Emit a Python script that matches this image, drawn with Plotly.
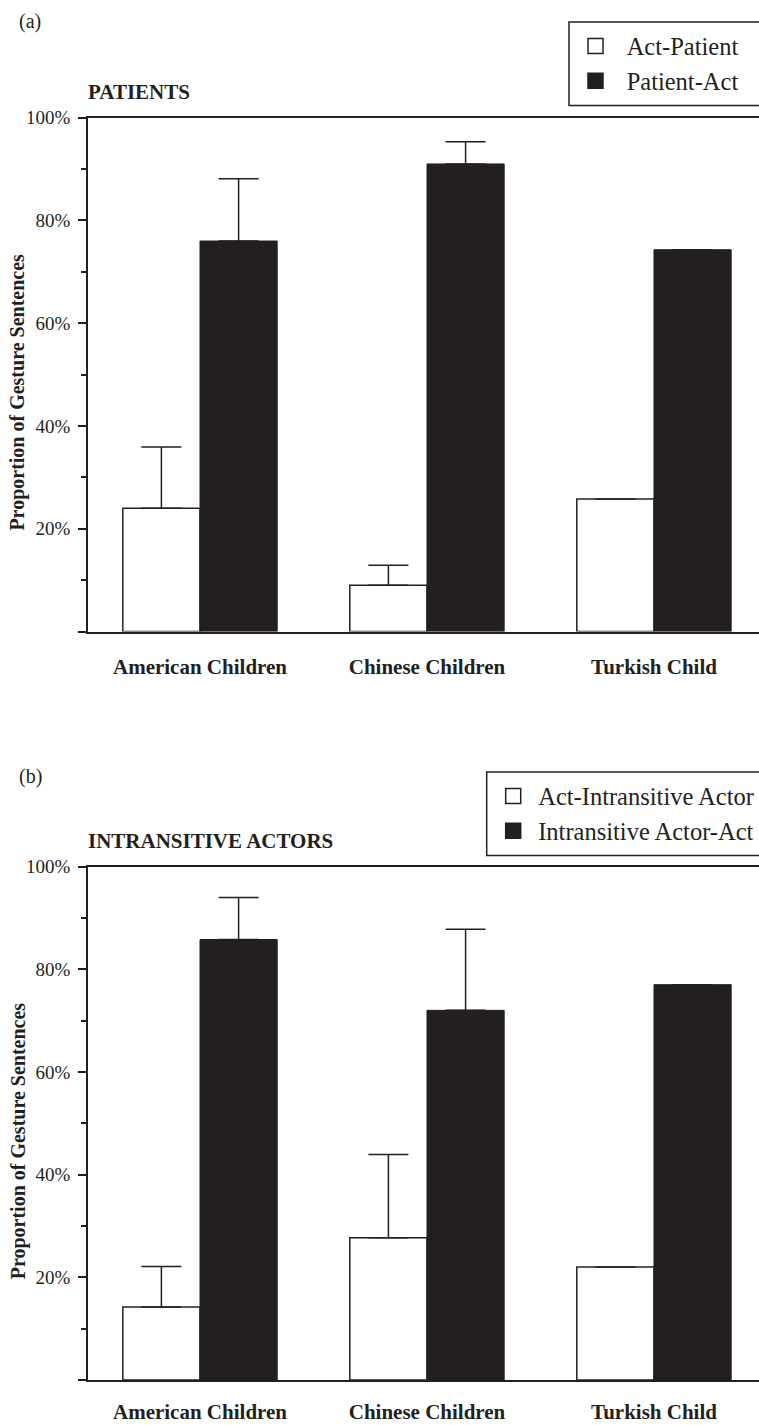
import plotly.graph_objects as go

groups = ["American Children", "Chinese Children", "Turkish Child"]
group_pos = [0, 1, 2]

# Panel (a) PATIENTS
a_names = ["Act-Patient", "Patient-Act"]
a_first = [24.0, 9.0, 25.8]
a_first_err = [11.9, 3.9, 0.0]
a_second = [76.0, 91.0, 74.3]
a_second_err = [12.1, 4.3, 0.0]

# Panel (b) INTRANSITIVE ACTORS
b_names = ["Act-Intransitive Actor", "Intransitive Actor-Act"]
b_first = [14.2, 27.7, 22.0]
b_first_err = [7.9, 16.2, 0.0]
b_second = [85.8, 72.0, 77.0]
b_second_err = [8.2, 15.8, 0.0]

y_tickvals = [0, 20, 40, 60, 80, 100]
y_ticktext = ["", "20%", "40%", "60%", "80%", "100%"]
y_minor = [10, 30, 50, 70, 90]

W, H = 759, 1425
INK = "#231f20"
SERIF = "Liberation Serif"

def py(px):
    return 1 - px / H

fig = go.Figure()

def add_pair(names, first, ferr, second, serr, xa, ya, legend, lead):
    fills = ["white", INK]
    for k, (vals, errs) in enumerate([(first, ferr), (second, serr)]):
        fig.add_trace(go.Bar(
            x=group_pos, y=vals, name=names[k], xaxis=xa, yaxis=ya, showlegend=False,
            marker=dict(color=fills[k], line=dict(color=INK, width=1.5 if k == 0 else 1)),
            error_y=dict(type="data", symmetric=False, array=errs, arrayminus=[0] * len(errs),
                         color=INK, thickness=1.5, width=20),
            offsetgroup=str(k + 1), hoverinfo="skip",
        ))
    for k in range(2):
        fig.add_trace(go.Scatter(
            x=[None], y=[None], name=lead + names[k], xaxis=xa, yaxis=ya, legend=legend,
            mode="markers", legendgroup=legend + str(k),
            marker=dict(symbol="square", size=15, color=fills[k], line=dict(color=INK, width=1.5)),
        ))

add_pair(a_names, a_first, a_first_err, a_second, a_second_err, "x", "y", "legend", "\u00a0")
add_pair(b_names, b_first, b_first_err, b_second, b_second_err, "x2", "y2", "legend2", "")

x_left = 88 / W
xrange_ = [-0.4934, 2.4626]

def xaxis(anchor, standoff):
    return dict(
        domain=[x_left, 1], range=xrange_, anchor=anchor,
        tickvals=group_pos, ticktext=groups, ticks="",
        showline=True, mirror=True, linecolor=INK, linewidth=1.5,
        showgrid=False, zeroline=False,
        tickfont=dict(family=SERIF, size=21, color=INK, weight="bold"),
        ticklabelstandoff=standoff,
    )

def yaxis(anchor, top_px, bot_px):
    return dict(
        domain=[py(bot_px), py(top_px)], range=[0, 100], anchor=anchor,
        tickvals=y_tickvals, ticktext=y_ticktext, ticks="outside", ticklen=8,
        tickwidth=1.5, tickcolor=INK,
        minor=dict(tickvals=y_minor, ticks="outside", ticklen=5, tickwidth=1.5, tickcolor=INK),
        showline=True, linecolor=INK, linewidth=1.5,
        showgrid=False, zeroline=False,
        tickfont=dict(family=SERIF, size=19, color=INK),
        ticklabelstandoff=4,
    )

legend_common = dict(
    bgcolor="rgba(0,0,0,0)", borderwidth=0,
    font=dict(family=SERIF, size=24.5, color=INK),
    xanchor="left", yanchor="top", traceorder="grouped", tracegroupgap=0,
    itemwidth=40,
)

A_TOP, A_BOT = 117.7, 631.5
B_TOP, B_BOT = 866.6, 1380
LEG_A = (569, 22.0)   # left, top of legend box (px)
LEG_B = (486.7, 772)
LEG_H = 83.5

fig.update_layout(
    width=W, height=H,
    margin=dict(l=0, r=0, t=0, b=0, autoexpand=False),
    paper_bgcolor="white", plot_bgcolor="white",
    barmode="group", bargap=0.32, bargroupgap=0,
    showlegend=True,
    xaxis=xaxis("y", 16),
    yaxis=yaxis("x", A_TOP, A_BOT),
    xaxis2=xaxis("y2", 12),
    yaxis2=yaxis("x2", B_TOP, B_BOT),
    legend=dict(x=(LEG_A[0] + 1.5) / W, y=py(LEG_A[1] + 1.5), **legend_common),
    legend2=dict(x=(LEG_B[0] + 1.5) / W, y=py(LEG_B[1] + 1.5), **legend_common),
    font=dict(family=SERIF, color=INK),
)

# legend frames: the original boxes run off the right edge of the page
shapes = []
for left, top in (LEG_A, LEG_B):
    shapes.append(dict(type="rect", xref="paper", yref="paper",
                       x0=left / W, x1=1.05, y0=py(top + LEG_H), y1=py(top),
                       line=dict(color=INK, width=1.5), fillcolor="rgba(0,0,0,0)"))

annots = [
    dict(text="(a)", x=17 / W, y=py(8), xanchor="left", yanchor="top",
         font=dict(family=SERIF, size=20, color=INK)),
    dict(text="(b)", x=17 / W, y=py(763), xanchor="left", yanchor="top",
         font=dict(family=SERIF, size=20, color=INK)),
    dict(text="PATIENTS", x=86 / W, y=py(A_TOP - 12), xanchor="left", yanchor="bottom",
         font=dict(family=SERIF, size=21, color=INK, weight="bold")),
    dict(text="INTRANSITIVE ACTORS", x=86 / W, y=py(B_TOP - 12), xanchor="left", yanchor="bottom",
         font=dict(family=SERIF, size=21, color=INK, weight="bold")),
    dict(text="Proportion of Gesture Sentences", x=18 / W, y=py((A_TOP + A_BOT) / 2 + 18),
         xanchor="center", yanchor="middle", textangle=-90,
         font=dict(family=SERIF, size=20, color=INK, weight="bold")),
    dict(text="Proportion of Gesture Sentences", x=18 / W, y=py((B_TOP + B_BOT) / 2 + 18),
         xanchor="center", yanchor="middle", textangle=-90,
         font=dict(family=SERIF, size=20, color=INK, weight="bold")),
]
for a in annots:
    a.update(xref="paper", yref="paper", showarrow=False)
fig.update_layout(annotations=annots, shapes=shapes, hovermode=False)

# the page's default 8px body margin would shift the whole figure; remove it
fig.write_html("out.html", config={"displayModeBar": False},
               post_script="document.body.style.margin='0px';")
